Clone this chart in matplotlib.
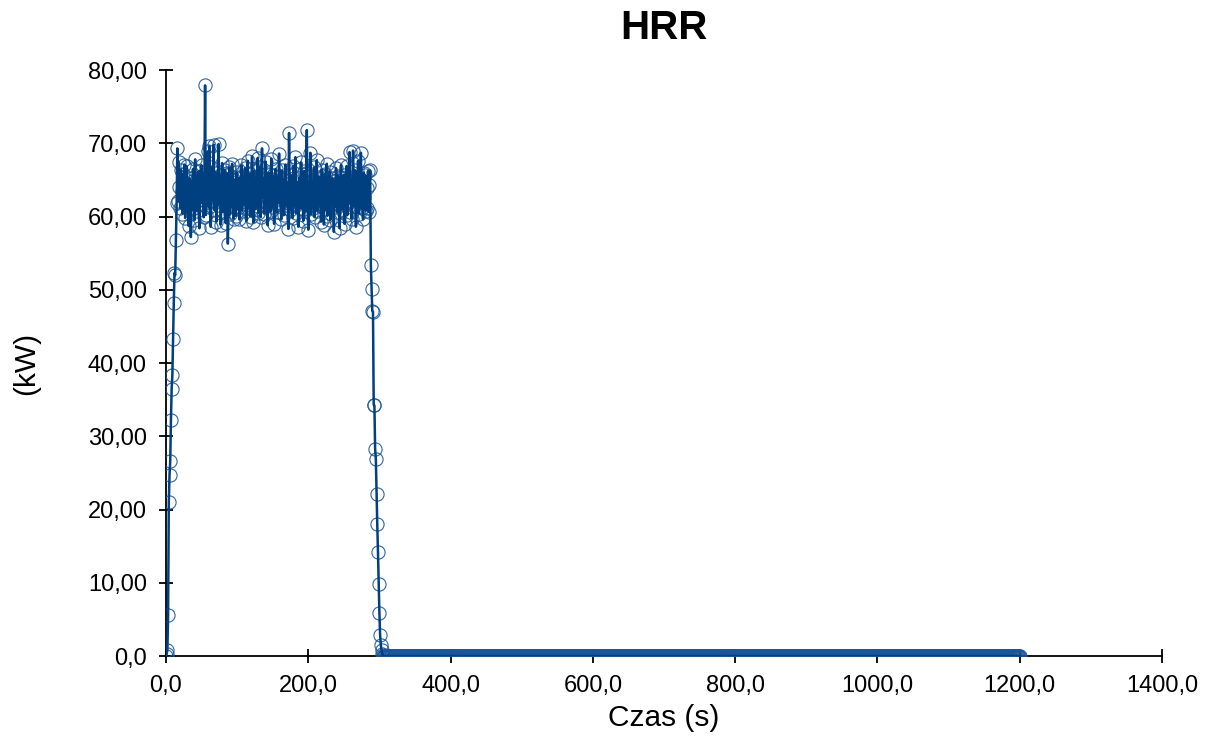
import matplotlib
matplotlib.use("Agg")
import matplotlib.pyplot as plt
import numpy as np

plt.rcParams['font.family'] = ['Liberation Sans', 'DejaVu Sans']

# ---- data (1 s sampling) ----
ramp = [0.0, 0.3, 0.8, 5.6, 21.0, 24.7, 26.6, 32.2, 36.5, 38.4,
        43.3, 48.2, 52.3, 52.0, 56.8, 61.8]
plateau = [
    69.3, 62.1, 67.4, 64.0, 61.2, 66.3, 63.5, 60.4, 65.8, 62.7, 67.1, 59.8, 64.6, 66.9, 61.5, 63.9, 58.7, 65.2, 62.4, 57.2,
    64.8, 61.0, 66.5, 63.2, 59.5, 67.8, 62.0, 65.1, 60.7, 64.3, 66.2, 58.4, 63.6, 61.8, 67.0, 62.9, 65.7, 59.9, 64.1, 77.9,
    60.2, 65.4, 62.6, 68.9, 61.3, 69.6, 63.0, 58.6, 66.8, 62.2, 64.9, 69.8, 60.9, 63.7, 66.0, 59.3, 64.5, 61.6, 69.9, 62.8,
    65.6, 58.9, 63.4, 67.3, 60.6, 64.2, 61.9, 66.4, 59.1, 63.1, 65.9, 56.3, 62.3, 66.7, 60.3, 64.7, 61.4, 67.2, 63.3, 59.7,
    65.0, 62.5, 60.1, 66.1, 63.8, 61.1, 65.3, 59.6, 64.4, 62.0, 67.0, 60.8, 63.0, 65.5, 61.7, 66.6, 62.4, 59.4, 64.9, 67.6,
    61.2, 63.6, 65.8, 60.0, 64.0, 68.2, 62.1, 59.2, 66.2, 63.1, 61.0, 65.0, 62.7, 68.0, 60.5, 64.6, 66.8, 59.9, 63.9, 69.3,
    62.6, 65.2, 60.4, 64.3, 67.5, 61.5, 63.4, 58.8, 66.0, 62.2, 64.8, 60.7, 67.9, 63.2, 61.3, 65.6, 59.0, 64.1, 66.5, 62.9,
    60.6, 65.4, 63.0, 68.6, 61.8, 64.0, 59.6, 66.3, 62.5, 65.1, 60.2, 63.7, 67.1, 61.6, 64.5, 62.3, 58.3, 71.4, 60.9, 65.7,
    62.0, 64.2, 59.8, 66.9, 63.3, 61.4, 68.1, 60.5, 64.7, 62.8, 58.6, 65.3, 63.6, 61.1, 67.4, 62.4, 64.0, 59.4, 66.2, 63.0,
    60.7, 65.9, 71.8, 61.9, 58.2, 64.6, 62.7, 68.7, 60.3, 65.0, 63.5, 61.2, 66.7, 59.9, 64.3, 62.1, 67.7, 60.8, 63.8, 65.4,
    61.5, 64.1, 59.3, 66.4, 62.6, 63.9, 58.9, 65.8, 61.0, 64.8, 67.2, 60.1, 63.2, 62.0, 66.1, 59.5, 64.4, 61.7, 65.2, 62.8,
    57.9, 64.9, 61.3, 66.6, 63.4, 60.6, 65.5, 62.2, 58.4, 64.2, 67.0, 60.9, 63.0, 61.6, 65.7, 59.0, 64.7, 62.5, 66.9, 60.2,
    63.7, 61.8, 68.8, 62.1, 65.0, 59.7, 64.5, 69.0, 61.4, 63.3, 66.3, 58.6, 64.0, 62.4, 67.6, 60.4, 65.3, 62.9, 68.7, 61.1,
    64.6, 59.6, 66.0, 62.7, 65.6, 60.8, 63.9, 61.2, 66.2, 60.6, 64.3, 66.3,
]
decay = [53.4, 50.1, 47.1, 47.0, 34.3, 34.2, 28.3, 26.9, 22.1, 18.0,
         14.2, 9.8, 5.9, 2.9, 1.5, 0.8, 0.3, 0.1]
t_end = 1200
hrr = ramp + plateau + decay
tail = [0.0] * (t_end + 1 - len(hrr))
hrr = hrr + tail
time_s = np.arange(len(hrr))

xticks = [0, 200, 400, 600, 800, 1000, 1200, 1400]
xticklabels = ["0,0", "200,0", "400,0", "600,0", "800,0", "1000,0", "1200,0", "1400,0"]
yticks = [0, 10, 20, 30, 40, 50, 60, 70, 80]
yticklabels = ["0,0", "10,00", "20,00", "30,00", "40,00", "50,00", "60,00", "70,00", "80,00"]

# ---- figure ----
fig = plt.figure(figsize=(12.07, 7.37), dpi=100)
ax = fig.add_axes([0.1375, 0.1099, 0.8252, 0.7951])

ax.plot(time_s, hrr, linestyle='none', marker='o', markersize=9.5,
        markerfacecolor='none', markeredgecolor='#1c5698', markeredgewidth=0.8,
        alpha=0.9, zorder=3)
ax.plot(time_s, hrr, color='#003f80', linewidth=1.8, zorder=4,
        solid_capstyle='round')

ax.set_xlim(0, 1400)
ax.set_ylim(0, 80)
ax.set_xticks(xticks)
ax.set_xticklabels(xticklabels)
ax.set_yticks(yticks)
ax.set_yticklabels(yticklabels)

for s in ['top', 'right']:
    ax.spines[s].set_visible(False)
for s in ['left', 'bottom']:
    ax.spines[s].set_linewidth(1.3)
    ax.spines[s].set_color('black')

ax.tick_params(axis='both', direction='inout', length=10.5, width=1.3,
               labelsize=17, colors='black')
ax.tick_params(axis='y', pad=8.5)
ax.tick_params(axis='x', pad=8.5)

ax.set_xlabel("Czas (s)", fontsize=21.5, labelpad=5)
ax.set_ylabel("(kW)", fontsize=21.5, labelpad=34)
ax.set_title("HRR", fontsize=29, fontweight='bold', pad=22)

fig.savefig("out.png", dpi=100)
